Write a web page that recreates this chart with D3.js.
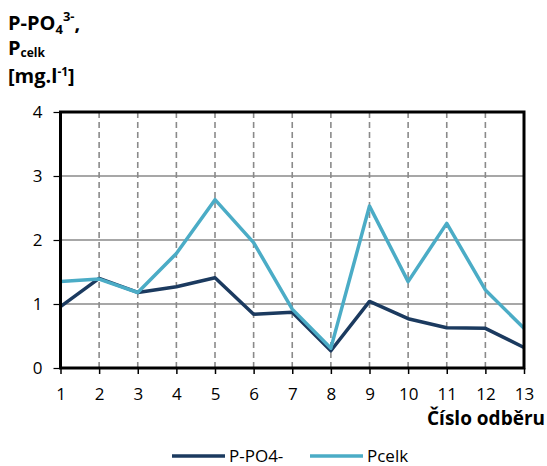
<!DOCTYPE html>
<html>
<head>
<meta charset="utf-8">
<script src="https://cdn.jsdelivr.net/npm/d3@7"></script>
<style>
  html, body { margin: 0; padding: 0; background: #fff; }
  svg { display: block; font-family: "Open Sans", sans-serif; }
</style>
</head>
<body>
<svg id="chart" width="547" height="466"></svg>
<script>
// Sample numbers (x axis) and measured concentrations [mg/l]
const samples = [1, 2, 3, 4, 5, 6, 7, 8, 9, 10, 11, 12, 13];
const pPO4 = [0.96, 1.40, 1.18, 1.27, 1.41, 0.84, 0.87, 0.27, 1.04, 0.77, 0.63, 0.62, 0.32];
const pCelk = [1.35, 1.39, 1.18, 1.79, 2.63, 1.96, 0.92, 0.31, 2.53, 1.35, 2.26, 1.22, 0.62];
const yTicks = [0, 1, 2, 3, 4];

const seriesList = [
  { name: "P-PO4-", values: pPO4, color: "#1b3a5f" },
  { name: "Pcelk", values: pCelk, color: "#4bacc6" }
];

const svg = d3.select("#chart");
const plotLeft = 60.5, plotRight = 524, plotTop = 112, plotBottom = 368;

const x = d3.scalePoint().domain(samples).range([plotLeft, plotRight]);
const y = d3.scaleLinear().domain([0, 4]).range([plotBottom, plotTop]);

// horizontal gridlines
svg.append("g")
  .selectAll("line")
  .data(yTicks.filter(d => d > 0 && d < 4))
  .join("line")
  .attr("x1", plotLeft).attr("x2", plotRight)
  .attr("y1", d => y(d)).attr("y2", d => y(d))
  .attr("stroke", "#8a8a8a").attr("stroke-width", 1.6);

// vertical dashed gridlines
svg.append("g")
  .selectAll("line")
  .data(samples.slice(1, -1))
  .join("line")
  .attr("x1", d => x(d)).attr("x2", d => x(d))
  .attr("y1", plotTop).attr("y2", plotBottom)
  .attr("stroke", "#8a8a8a").attr("stroke-width", 1.6)
  .attr("stroke-dasharray", "6,4");

// y axis ticks and labels
const yAxis = d3.axisLeft(y).tickValues(yTicks).tickSize(7).tickPadding(11).tickFormat(d3.format("d"));
const gy = svg.append("g").attr("transform", `translate(${plotLeft},0)`).call(yAxis);
gy.select(".domain").remove();
gy.selectAll(".tick line").attr("stroke", "#000").attr("stroke-width", 1.2);
gy.selectAll("text").attr("font-size", 17).attr("fill", "#000").attr("font-family", "Open Sans");

// x axis ticks and labels
const xAxis = d3.axisBottom(x).tickSize(6).tickPadding(14);
const gx = svg.append("g").attr("transform", `translate(0,${plotBottom})`).call(xAxis);
gx.select(".domain").remove();
gx.selectAll(".tick line").attr("stroke", "#000").attr("stroke-width", 1.5);
gx.selectAll("text").attr("font-size", 17).attr("fill", "#000").attr("font-family", "Open Sans");

// series lines
const line = d3.line().x((d, i) => x(samples[i])).y(d => y(d));
svg.append("g")
  .selectAll("path")
  .data(seriesList)
  .join("path")
  .attr("d", d => line(d.values))
  .attr("fill", "none")
  .attr("stroke", d => d.color)
  .attr("stroke-width", 3.5)
  .attr("stroke-linejoin", "round");

// plot frame
svg.append("rect")
  .attr("x", plotLeft).attr("y", plotTop)
  .attr("width", plotRight - plotLeft).attr("height", plotBottom - plotTop)
  .attr("fill", "none").attr("stroke", "#000").attr("stroke-width", 3);

// y axis title (three lines)
const yt = svg.append("text").attr("font-weight", "bold").attr("font-size", 20).attr("fill", "#000");
const l1 = yt.append("tspan").attr("x", 8).attr("y", 30);
l1.append("tspan").text("P-PO");
l1.append("tspan").attr("font-size", 13).attr("dy", 4).text("4");
l1.append("tspan").attr("font-size", 13).attr("dy", -13).text("3-");
l1.append("tspan").attr("dy", 9).text(",");
const l2 = yt.append("tspan").attr("x", 8).attr("y", 55);
l2.append("tspan").text("P");
l2.append("tspan").attr("font-size", 12).attr("dy", 2).text("celk");
const l3 = yt.append("tspan").attr("x", 8).attr("y", 83);
l3.append("tspan").text("[mg.l");
l3.append("tspan").attr("font-size", 12).attr("dy", -7).text("-1");
l3.append("tspan").attr("dy", 7).text("]");

// x axis title
svg.append("text")
  .attr("x", 545).attr("y", 425)
  .attr("text-anchor", "end")
  .attr("font-weight", "bold").attr("font-size", 19).attr("fill", "#000")
  .text("Číslo odběru");

// legend
const legend = svg.append("g")
  .selectAll("g")
  .data(seriesList)
  .join("g")
  .attr("transform", (d, i) => `translate(${172 + i * 138},456)`);
legend.append("line")
  .attr("x1", 0).attr("x2", 53).attr("y1", 0).attr("y2", 0)
  .attr("stroke", d => d.color).attr("stroke-width", 3.5);
legend.append("text")
  .attr("x", 57).attr("y", 6)
  .attr("font-size", 17).attr("fill", "#000")
  .text(d => d.name);
</script>
</body>
</html>
